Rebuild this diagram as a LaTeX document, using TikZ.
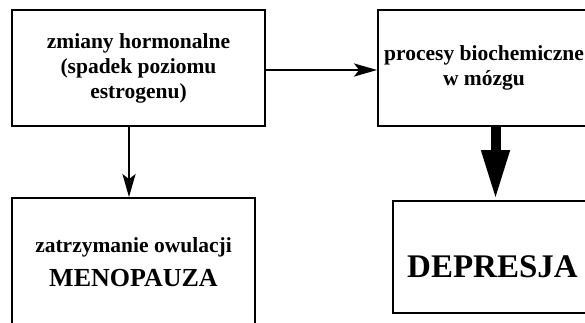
\documentclass[tikz,border=0pt]{standalone}
\usepackage{fontspec}
\setmainfont{Liberation Serif}
\usetikzlibrary{arrows.meta}
\begin{document}
\begin{tikzpicture}[
  x=1pt, y=-1pt,
  block/.style={rectangle, draw, line width=1.8pt, align=center, font=\fontsize{21.5}{25}\selectfont\bfseries},
  link/.style={line width=2.4pt, -{Stealth[length=23pt, width=13pt, inset=5pt]}},
  bigarrow/.style={line width=10pt, -{Triangle[length=50pt, width=26pt]}}
]
\useasboundingbox (0,0) rectangle (585,322);
\clip (0,0) rectangle (585,322);
\node[block, minimum width=253, minimum height=116] (hormony) at (138.5,68) {zmiany hormonalne\\(spadek poziomu\\estrogenu)};
\node[block, minimum width=212, minimum height=116] (procesy) at (484,68) {procesy biochemiczne\\w mózgu};
\node[block, minimum width=243, minimum height=128] (menopauza) at (133.5,262) {zatrzymanie owulacji\\[9pt]{\fontsize{26}{30}\selectfont MENOPAUZA}};
\node[block, minimum width=199, minimum height=112, text height=42pt, font=\fontsize{33}{36}\selectfont\bfseries] (depresja) at (492.5,257) {DEPRESJA};

\draw[link] ([xshift=-9.5pt]hormony.south) -- ([xshift=-9.5pt]hormony.south |- menopauza.north);
\draw[link] ([yshift=-2pt]hormony.east) -- ([yshift=-2pt]hormony.east -| procesy.west);
\draw[bigarrow] ([xshift=3pt]depresja.north |- procesy.south) -- ([xshift=3pt]depresja.north);
\end{tikzpicture}
\end{document}
